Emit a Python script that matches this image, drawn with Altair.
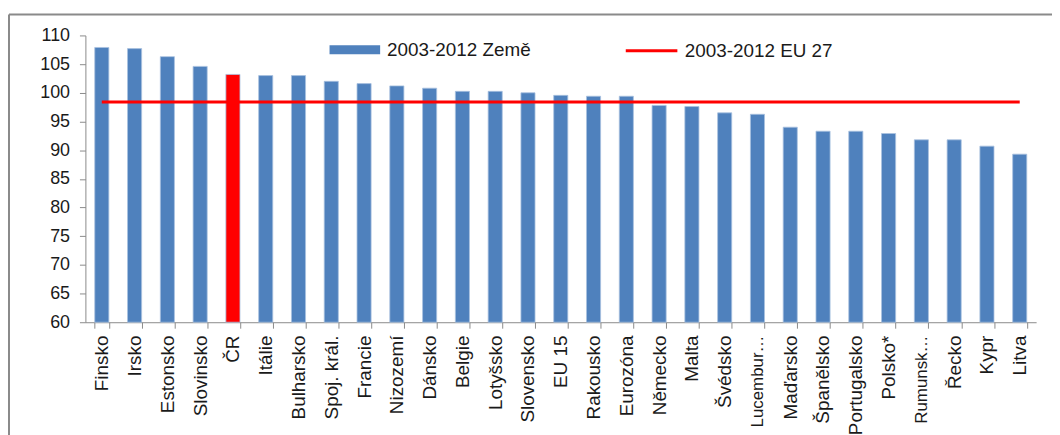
import altair as alt
import pandas as pd

countries = ["Finsko", "Irsko", "Estonsko", "Slovinsko", "ČR", "Itálie", "Bulharsko",
             "Spoj. král.", "Francie", "Nizozemí", "Dánsko", "Belgie", "Lotyšsko",
             "Slovensko", "EU 15", "Rakousko", "Eurozóna", "Německo", "Malta", "Švédsko",
             "Lucembursko", "Maďarsko", "Španělsko", "Portugalsko", "Polsko*", "Rumunsko",
             "Řecko", "Kypr", "Litva"]
values = [107.9, 107.7, 106.3, 104.6, 103.2, 103.0, 103.0, 102.0, 101.6, 101.2, 100.8,
          100.25, 100.25, 100.0, 99.55, 99.4, 99.4, 97.8, 97.6, 96.5, 96.25, 94.0,
          93.3, 93.3, 92.9, 91.8, 91.8, 90.7, 89.3]
eu27 = 98.4
series_bar = "2003-2012 Země"
series_line = "2003-2012 EU 27"
highlight = "ČR"
y_ticks = list(range(60, 111, 5))

FONT = "Liberation Sans"
TXT = "#1a1a1a"
AX = "#8a8a8a"

df = pd.DataFrame({"country": countries, "value": values, "series": series_bar})
df_line = pd.DataFrame({"country": countries, "eu": [eu27] * len(countries),
                        "series2": series_line})

short_test = "datum.value == 'Lucembursko' || datum.value == 'Rumunsko'"
x_axis = alt.Axis(
    title=None, labelAngle=-90, labelAlign="right", labelBaseline="middle",
    labelPadding=7, labelFontSize={"condition": {"test": short_test, "value": 17}, "value": 19},
    labelFont=FONT, labelColor=TXT,
    labelLimit=300, labelOverlap=False, tickBand="extent", tickSize=6,
    tickColor=AX, domainColor=AX, domainWidth=1,
    labelExpr="datum.value == 'Lucembursko' ? 'Lucembur…' : (datum.value == 'Rumunsko' ? 'Rumunsk…' : datum.value)")
y_axis = alt.Axis(title=None, values=y_ticks, grid=False, labelFontSize=18,
                  labelFont=FONT, labelColor=TXT, tickSize=6, tickColor=AX,
                  domainColor=AX, labelPadding=10, labelOverlap=False, labelFlush=False)
x_scale = alt.Scale(paddingInner=0.57, paddingOuter=0.285)
y_scale = alt.Scale(domain=[60, 110], nice=False, zero=False)

bars = alt.Chart(df).mark_bar(stroke="#a9c1df", strokeWidth=0.8).encode(
    x=alt.X("country:N", sort=countries, scale=x_scale, axis=x_axis),
    y=alt.Y("value:Q", scale=y_scale, axis=y_axis),
    y2=alt.datum(60),
    fill=alt.condition(
        alt.datum.country == highlight,
        alt.value("#FF0000"),
        alt.Fill("series:N", scale=alt.Scale(domain=[series_bar], range=["#4F81BD"]),
                 legend=alt.Legend(title=None, orient="none", legendX=246, legendY=-11,
                                   symbolType="M-1,-0.176H1V0.176H-1Z", symbolSize=2601,
                                   symbolStrokeWidth=0, labelFontSize=19, labelFont=FONT,
                                   labelColor=TXT, labelOffset=7, padding=0))
    ),
)

line = alt.Chart(df_line).mark_line(strokeWidth=3).encode(
    x=alt.X("country:N", sort=countries, scale=x_scale, axis=x_axis),
    y=alt.Y("eu:Q", scale=y_scale, axis=y_axis),
    stroke=alt.Stroke("series2:N", scale=alt.Scale(domain=[series_line], range=["#FF0000"]),
                      legend=alt.Legend(title=None, orient="none", legendX=543, legendY=-12,
                                        symbolType="stroke", symbolSize=2704,
                                        symbolStrokeWidth=3, labelFontSize=19, labelFont=FONT,
                                        labelColor=TXT, labelOffset=6, padding=0)),
)

frame_df = pd.DataFrame({"a": [0]})
frame_top = alt.Chart(frame_df).mark_rule(color=AX, strokeWidth=2).encode(
    x=alt.value(-77), x2=alt.value(1000), y=alt.value(-21))
frame_left = alt.Chart(frame_df).mark_rule(color=AX, strokeWidth=2).encode(
    x=alt.value(-77), y=alt.value(-21), y2=alt.value(430))

chart = alt.layer(frame_top, frame_left, bars, line).properties(
    width=958, height=289,
    padding={"left": 78, "top": 26, "right": 16, "bottom": 112},
    autosize=alt.AutoSizeParams(type="none"),
).resolve_scale(fill="independent", stroke="independent").configure_view(stroke=None)

chart.save("out.html", embed_options={"renderer": "svg", "actions": False})
